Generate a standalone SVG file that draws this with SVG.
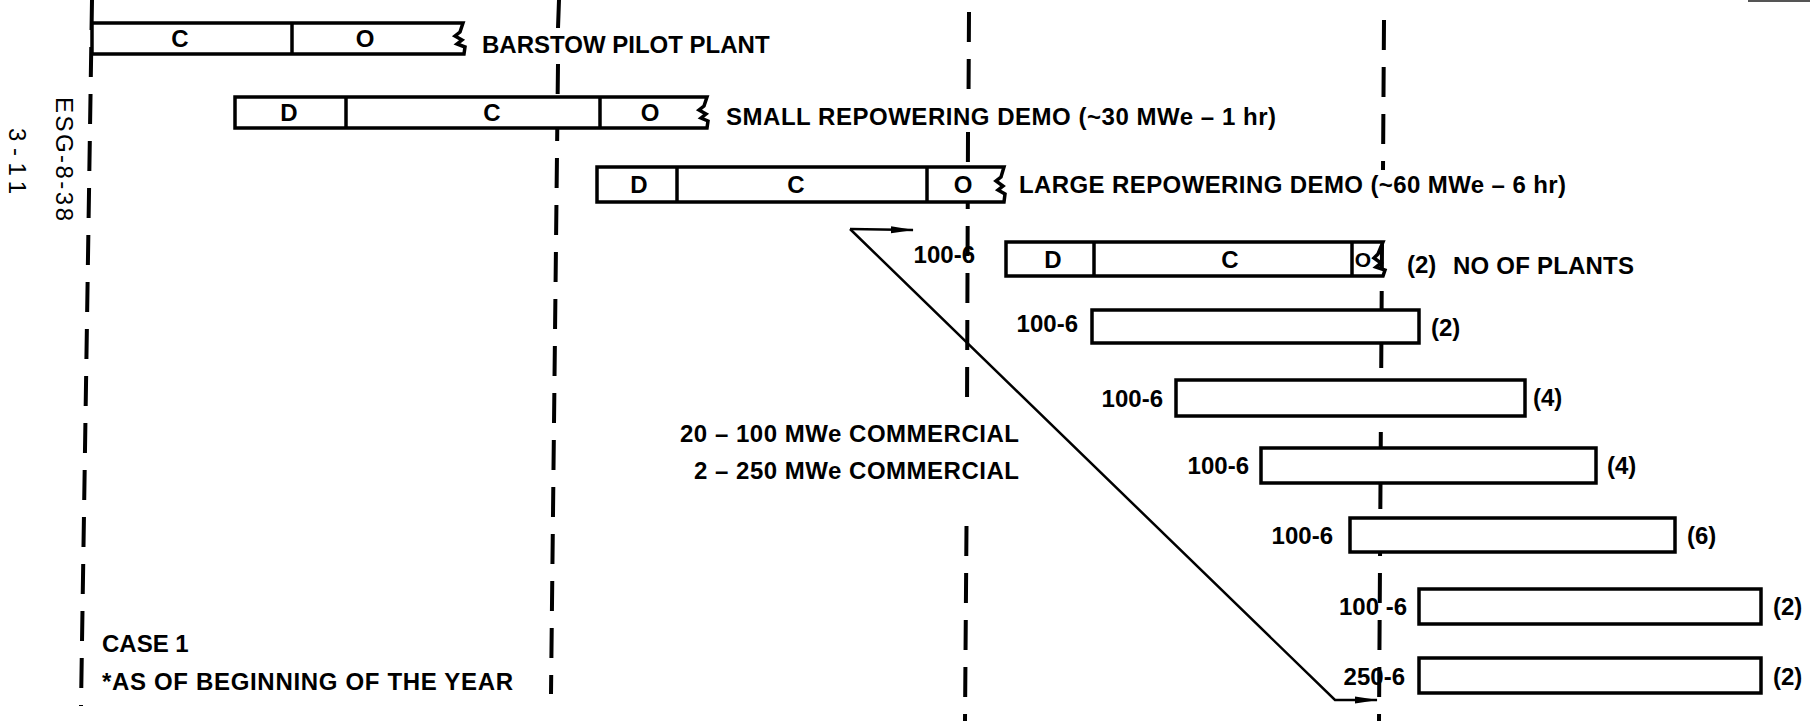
<svg xmlns="http://www.w3.org/2000/svg" width="1810" height="721" viewBox="0 0 1810 721">
<defs>
<style>
.dash{stroke:#000;stroke-width:4;stroke-dasharray:30 17;fill:none}
.bar{fill:#fff;stroke:#000;stroke-width:3.5;stroke-linejoin:miter}
.div{stroke:#000;stroke-width:3.5}
.t{font-family:"Liberation Sans",Arial,sans-serif;font-weight:bold;font-size:24px;fill:#000}
.in{font-family:"Liberation Sans",Arial,sans-serif;font-weight:bold;font-size:24px;fill:#000;text-anchor:middle}
.end{text-anchor:end}
.rot{font-family:"Liberation Sans",Arial,sans-serif;font-size:24px;fill:#000}
.conn{stroke:#000;stroke-width:2.5;fill:none}
</style>
<marker id="ah" markerWidth="24" markerHeight="10" refX="22" refY="5" orient="auto" markerUnits="userSpaceOnUse">
<path d="M0,1.5 L23,5 L0,8.5 Z" fill="#000"/>
</marker>
</defs>
<rect width="1810" height="721" fill="#fff"/>
<line x1="1748" y1="1" x2="1810" y2="1" stroke="#555" stroke-width="2"/>
<g id="gridlines">
<path class="dash" d="M92,0 L81,706"/>
<path class="dash" d="M559,0 L558,28 M558,64 L551,694"/>
<path class="dash" d="M969,12 L968.5,100 M968,132 L967,412 M966.5,526 L965,721"/>
<path class="dash" d="M1384,20 L1383,170 M1382,244 L1379,721"/>
</g>
<g id="side-labels">
<text class="rot" transform="translate(56,97) rotate(90)" textLength="124" lengthAdjust="spacing">ESG-8-38</text>
<text class="rot" transform="translate(9,128) rotate(90)" textLength="66" lengthAdjust="spacing">3-11</text>
</g>
<g id="barstow">
<path class="bar" d="M92,23 H463 L460,32 L455,36 L462,40 L457,44 L465,47 L464,54 H92 Z"/>
<line class="div" x1="292" y1="23" x2="292" y2="54"/>
<text class="in" x="180" y="47">C</text>
<text class="in" x="365" y="47">O</text>
<text class="t" x="482" y="53">BARSTOW PILOT PLANT</text>
</g>
<g id="small-demo">
<path class="bar" d="M235,97 H707 L704,106 L699,110 L706,114 L701,118 L708,121 L707,128 H235 Z"/>
<line class="div" x1="346" y1="97" x2="346" y2="128"/>
<line class="div" x1="600" y1="97" x2="600" y2="128"/>
<text class="in" x="289" y="121">D</text>
<text class="in" x="492" y="121">C</text>
<text class="in" x="650" y="121">O</text>
<text class="t" x="726" y="125" textLength="550" lengthAdjust="spacing">SMALL REPOWERING DEMO (~30 MWe – 1 hr)</text>
</g>
<g id="large-demo">
<path class="bar" d="M597,167 H1004 L1001,177 L996,181 L1003,186 L998,190 L1005,194 L1004,202 H597 Z"/>
<line class="div" x1="677" y1="167" x2="677" y2="202"/>
<line class="div" x1="927" y1="167" x2="927" y2="202"/>
<text class="in" x="639" y="193">D</text>
<text class="in" x="796" y="193">C</text>
<text class="in" x="963" y="193">O</text>
<text class="t" x="1019" y="193" textLength="547" lengthAdjust="spacing">LARGE REPOWERING DEMO (~60 MWe – 6 hr)</text>
</g>
<g id="commercial-1">
<text class="t end" x="975" y="263">100-6</text>
<path class="bar" d="M1006,242 H1383 L1378,254 L1374,258 L1381,263 L1376,267 L1385,270 L1383,276 H1006 Z"/>
<line class="div" x1="1094" y1="242" x2="1094" y2="276"/>
<line class="div" x1="1352" y1="242" x2="1352" y2="276"/>
<text class="in" x="1053" y="268">D</text>
<text class="in" x="1230" y="268">C</text>
<text class="in" x="1363" y="267" style="font-size:21px">O</text>
<text class="t" x="1407" y="273">(2)</text>
<text class="t" x="1453" y="274" textLength="181" lengthAdjust="spacing">NO OF PLANTS</text>
</g>
<g id="commercial-2">
<text class="t end" x="1078" y="332">100-6</text>
<rect class="bar" x="1092" y="310" width="327" height="33"/>
<text class="t" x="1431" y="336">(2)</text>
</g>
<g id="commercial-3">
<text class="t end" x="1163" y="407">100-6</text>
<rect class="bar" x="1176" y="380" width="349" height="36"/>
<text class="t" x="1533" y="406">(4)</text>
</g>
<g id="commercial-4">
<text class="t end" x="1249" y="474">100-6</text>
<rect class="bar" x="1261" y="448" width="335" height="35"/>
<text class="t" x="1607" y="474">(4)</text>
</g>
<g id="commercial-5">
<text class="t end" x="1333" y="544">100-6</text>
<rect class="bar" x="1350" y="518" width="325" height="34"/>
<text class="t" x="1687" y="544">(6)</text>
</g>
<g id="commercial-6">
<text class="t end" x="1407" y="615">100 -6</text>
<rect class="bar" x="1419" y="589" width="342" height="35"/>
<text class="t" x="1773" y="615">(2)</text>
</g>
<g id="commercial-7">
<text class="t end" x="1405" y="685">250-6</text>
<rect class="bar" x="1419" y="658" width="342" height="35"/>
<text class="t" x="1773" y="685">(2)</text>
</g>
<g id="connectors">
<path class="conn" d="M850,229 L913,230" marker-end="url(#ah)"/>
<path class="conn" d="M850,229 L1335,700 L1377,700" marker-end="url(#ah)"/>
</g>
<g id="notes">
<text class="t end" x="1019" y="442" textLength="339" lengthAdjust="spacing">20 – 100 MWe COMMERCIAL</text>
<text class="t end" x="1019" y="479" textLength="325" lengthAdjust="spacing">2 – 250 MWe COMMERCIAL</text>
<text class="t" x="102" y="652">CASE 1</text>
<text class="t" x="102" y="690" textLength="411" lengthAdjust="spacing">*AS OF BEGINNING OF THE YEAR</text>
</g>
</svg>
